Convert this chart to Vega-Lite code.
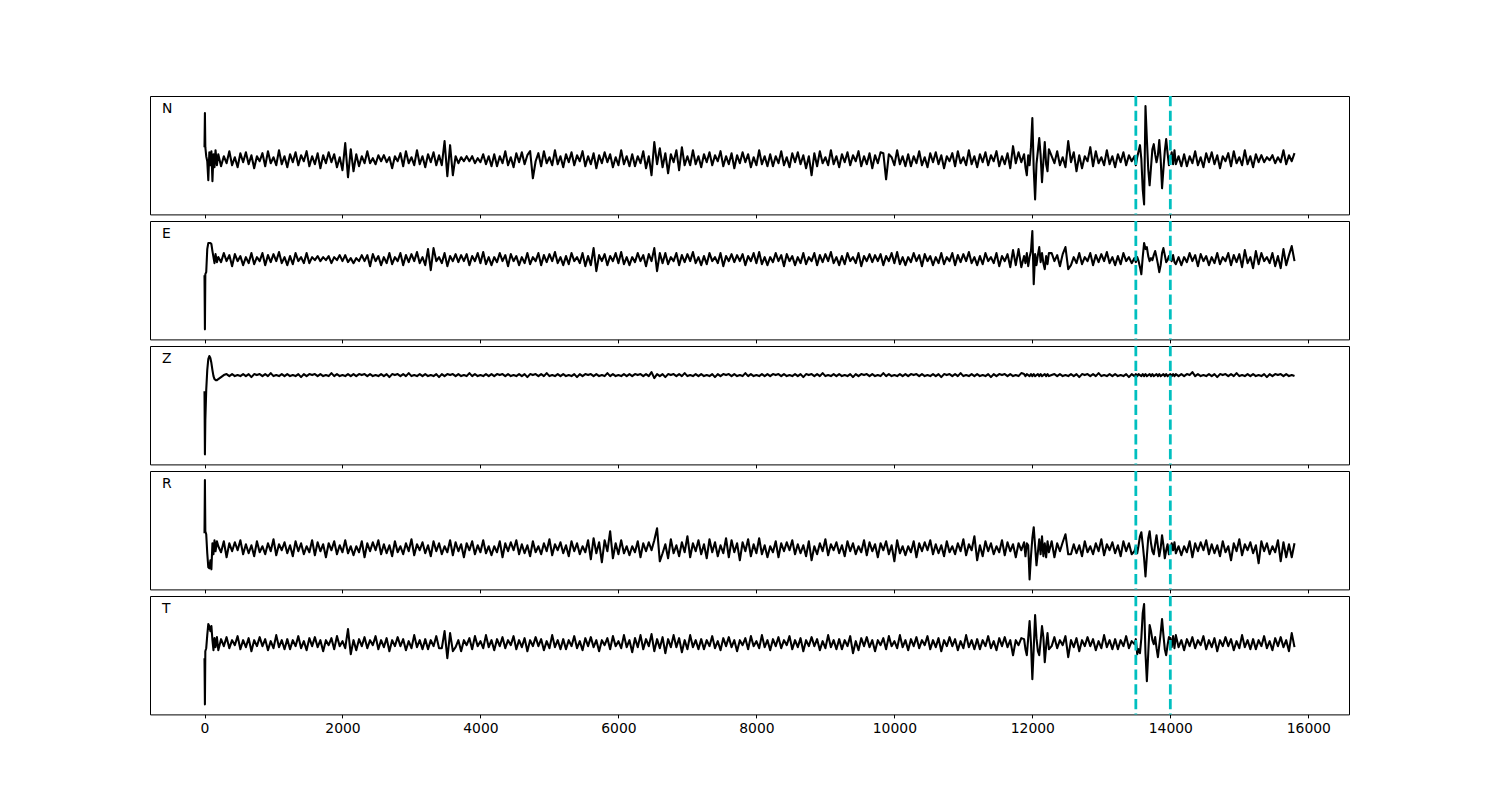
{
"$schema": "https://vega.github.io/schema/vega-lite/v6.json",
"background": "white",
"padding": {"left": 149, "top": 94, "right": 0, "bottom": 0},
"bounds": "flush",
"spacing": 6,
"config": {
  "view": {"stroke": "black", "strokeWidth": 1},
  "axis": {"domain": false, "grid": false, "tickColor": "black", "tickWidth": 1, "tickSize": 3.5, "labelColor": "black", "labelFont": "DejaVu Sans", "labelFontSize": 13.9, "labelPadding": 3.5},
  "title": {"font": "DejaVu Sans", "fontSize": 13.9, "fontWeight": "normal", "color": "black", "anchor": "start", "frame": "group", "baseline": "alphabetic", "offset": -21, "dx": 12}
},
"datasets": {
"picks": [{"t": 13500}, {"t": 14000}],
"w": [
{"t":0,"N":12,"E":-16,"Z":-16,"R":15,"T":-15},
{"t":6,"N":46,"E":-70,"Z":-79,"R":68,"T":-61},
{"t":12,"N":12,"E":-15,"Z":-45,"R":17,"T":-8},
{"t":25,"N":3,"E":-13,"Z":-15,"R":14,"T":-5},
{"t":40,"N":-2,"E":10,"Z":5,"R":-5,"T":8},
{"t":55,"N":-21,"E":16,"Z":16,"R":-19,"T":19},
{"t":70,"N":7,"E":16,"Z":19,"R":-20,"T":17},
{"t":85,"N":-6,"E":16,"Z":17,"R":-12,"T":12},
{"t":100,"N":8,"E":15,"Z":12,"R":-21,"T":17},
{"t":115,"N":-22,"E":8,"Z":5,"R":5,"T":3},
{"t":130,"N":5,"E":2,"Z":-1,"R":-6,"T":-7},
{"t":145,"N":-8,"E":-4,"Z":-4,"R":8,"T":5},
{"t":160,"N":9,"E":5,"Z":-5,"R":-3,"T":-4},
{"t":180,"N":-6,"E":-3,"Z":-5,"R":7,"T":6},
{"t":200,"N":5,"E":2,"Z":-4,"R":2,"T":-7},
{"t":240,"N":-7,"E":-3,"Z":-2,"R":-4,"T":4},
{"t":280,"N":3,"E":6,"Z":0,"R":7,"T":-3},
{"t":320,"N":-4,"E":-2,"Z":1,"R":-9,"T":6},
{"t":360,"N":8,"E":4,"Z":-1,"R":5,"T":-5},
{"t":400,"N":-6,"E":-7,"Z":1,"R":-3,"T":3},
{"t":440,"N":2,"E":5,"Z":-1,"R":6,"T":-2},
{"t":480,"N":-8,"E":-2,"Z":0,"R":-2,"T":7},
{"t":520,"N":6,"E":3,"Z":-1,"R":8,"T":-6},
{"t":560,"N":-3,"E":-6,"Z":1,"R":-6,"T":3},
{"t":600,"N":7,"E":2,"Z":-1,"R":4,"T":-4},
{"t":640,"N":-5,"E":-4,"Z":1,"R":-5,"T":5},
{"t":680,"N":4,"E":6,"Z":-2,"R":3,"T":-8},
{"t":720,"N":-9,"E":-5,"Z":1,"R":-8,"T":3},
{"t":760,"N":3,"E":2,"Z":0,"R":7,"T":-3},
{"t":800,"N":-2,"E":-2,"Z":1,"R":-4,"T":6},
{"t":840,"N":6,"E":6,"Z":-1,"R":2,"T":-3},
{"t":880,"N":-7,"E":-6,"Z":1,"R":-6,"T":4},
{"t":920,"N":8,"E":4,"Z":-1,"R":5,"T":-7},
{"t":960,"N":-4,"E":-3,"Z":2,"R":-3,"T":2},
{"t":1000,"N":2,"E":5,"Z":-1,"R":9,"T":-5},
{"t":1040,"N":-6,"E":-2,"Z":0,"R":-7,"T":8},
{"t":1080,"N":9,"E":7,"Z":-1,"R":4,"T":-4},
{"t":1120,"N":-5,"E":-4,"Z":1,"R":-2,"T":3},
{"t":1160,"N":3,"E":2,"Z":-1,"R":6,"T":-6},
{"t":1200,"N":-8,"E":-6,"Z":1,"R":-5,"T":4},
{"t":1240,"N":5,"E":3,"Z":-1,"R":3,"T":-6},
{"t":1280,"N":-3,"E":-5,"Z":0,"R":-8,"T":3},
{"t":1320,"N":7,"E":6,"Z":-1,"R":7,"T":-3},
{"t":1360,"N":-6,"E":-2,"Z":1,"R":-3,"T":7},
{"t":1400,"N":4,"E":2,"Z":-2,"R":5,"T":-5},
{"t":1440,"N":-2,"E":-4,"Z":1,"R":-6,"T":2},
{"t":1480,"N":8,"E":6,"Z":-1,"R":2,"T":-7},
{"t":1520,"N":-7,"E":-4,"Z":1,"R":-4,"T":5},
{"t":1560,"N":3,"E":2,"Z":0,"R":8,"T":-3},
{"t":1600,"N":-5,"E":-1,"Z":1,"R":-7,"T":6},
{"t":1640,"N":6,"E":3,"Z":-1,"R":6,"T":-4},
{"t":1680,"N":-9,"E":-2,"Z":1,"R":-3,"T":3},
{"t":1720,"N":4,"E":2,"Z":-1,"R":4,"T":-8},
{"t":1760,"N":-4,"E":-1,"Z":0,"R":-9,"T":3},
{"t":1800,"N":7,"E":3,"Z":-1,"R":5,"T":-2},
{"t":1840,"N":-3,"E":-4,"Z":2,"R":-2,"T":5},
{"t":1880,"N":5,"E":2,"Z":-1,"R":7,"T":-6},
{"t":1920,"N":-8,"E":-1,"Z":1,"R":-6,"T":7},
{"t":1960,"N":2,"E":4,"Z":-1,"R":3,"T":-3},
{"t":2000,"N":-11,"E":-2,"Z":0,"R":-4,"T":2},
{"t":2040,"N":16,"E":4,"Z":-1,"R":8,"T":-5},
{"t":2080,"N":-18,"E":-3,"Z":1,"R":-5,"T":14},
{"t":2120,"N":10,"E":1,"Z":-1,"R":2,"T":-11},
{"t":2160,"N":-12,"E":-4,"Z":1,"R":-7,"T":3},
{"t":2200,"N":5,"E":1,"Z":-1,"R":2,"T":-7},
{"t":2240,"N":-7,"E":-2,"Z":1,"R":-4,"T":4},
{"t":2280,"N":3,"E":4,"Z":0,"R":7,"T":-3},
{"t":2320,"N":-4,"E":-2,"Z":1,"R":-9,"T":6},
{"t":2360,"N":8,"E":4,"Z":-1,"R":5,"T":-5},
{"t":2400,"N":-4,"E":-7,"Z":1,"R":-3,"T":3},
{"t":2440,"N":1,"E":5,"Z":-1,"R":6,"T":-2},
{"t":2480,"N":-5,"E":-2,"Z":0,"R":-2,"T":7},
{"t":2520,"N":4,"E":3,"Z":-1,"R":8,"T":-6},
{"t":2560,"N":-2,"E":-6,"Z":1,"R":-6,"T":3},
{"t":2600,"N":4,"E":2,"Z":-1,"R":4,"T":-4},
{"t":2640,"N":-3,"E":-4,"Z":1,"R":-5,"T":5},
{"t":2680,"N":2,"E":6,"Z":-2,"R":3,"T":-8},
{"t":2720,"N":-9,"E":-5,"Z":1,"R":-8,"T":3},
{"t":2760,"N":3,"E":2,"Z":0,"R":7,"T":-3},
{"t":2800,"N":-2,"E":-2,"Z":1,"R":-4,"T":6},
{"t":2840,"N":6,"E":6,"Z":-1,"R":2,"T":-3},
{"t":2880,"N":-7,"E":-6,"Z":1,"R":-6,"T":4},
{"t":2920,"N":8,"E":4,"Z":-1,"R":5,"T":-7},
{"t":2960,"N":-4,"E":-3,"Z":2,"R":-3,"T":2},
{"t":3000,"N":2,"E":5,"Z":-1,"R":9,"T":-5},
{"t":3040,"N":-6,"E":-2,"Z":0,"R":-7,"T":8},
{"t":3080,"N":9,"E":7,"Z":-1,"R":4,"T":-4},
{"t":3120,"N":-5,"E":-4,"Z":1,"R":-2,"T":3},
{"t":3160,"N":3,"E":2,"Z":-1,"R":6,"T":-6},
{"t":3200,"N":-8,"E":-6,"Z":1,"R":-5,"T":4},
{"t":3240,"N":5,"E":10,"Z":-1,"R":3,"T":-6},
{"t":3280,"N":-3,"E":-11,"Z":0,"R":-8,"T":3},
{"t":3320,"N":7,"E":11,"Z":-1,"R":7,"T":-3},
{"t":3360,"N":-6,"E":-2,"Z":1,"R":-3,"T":7},
{"t":3400,"N":4,"E":2,"Z":-2,"R":5,"T":-5},
{"t":3440,"N":-6,"E":-4,"Z":1,"R":-6,"T":-5},
{"t":3480,"N":18,"E":6,"Z":-1,"R":2,"T":12},
{"t":3520,"N":-17,"E":-7,"Z":1,"R":-4,"T":-15},
{"t":3560,"N":14,"E":3,"Z":0,"R":8,"T":10},
{"t":3600,"N":-16,"E":-2,"Z":1,"R":-7,"T":-8},
{"t":3640,"N":3,"E":5,"Z":-1,"R":6,"T":-4},
{"t":3680,"N":-4,"E":-3,"Z":1,"R":-3,"T":3},
{"t":3720,"N":2,"E":4,"Z":-1,"R":4,"T":-8},
{"t":3760,"N":-2,"E":-2,"Z":0,"R":-9,"T":3},
{"t":3800,"N":3,"E":5,"Z":-1,"R":5,"T":-2},
{"t":3840,"N":-2,"E":-6,"Z":2,"R":-2,"T":5},
{"t":3880,"N":3,"E":3,"Z":-1,"R":7,"T":-6},
{"t":3920,"N":-4,"E":-2,"Z":1,"R":-6,"T":7},
{"t":3960,"N":1,"E":6,"Z":-1,"R":3,"T":-3},
{"t":4000,"N":-3,"E":-4,"Z":0,"R":-4,"T":2},
{"t":4040,"N":5,"E":7,"Z":-1,"R":8,"T":-5},
{"t":4080,"N":-5,"E":-5,"Z":1,"R":-5,"T":8},
{"t":4120,"N":3,"E":2,"Z":-1,"R":2,"T":-4},
{"t":4160,"N":-7,"E":-6,"Z":1,"R":-7,"T":3},
{"t":4200,"N":5,"E":2,"Z":-1,"R":2,"T":-7},
{"t":4240,"N":-7,"E":-3,"Z":1,"R":-4,"T":4},
{"t":4280,"N":3,"E":6,"Z":0,"R":7,"T":-3},
{"t":4320,"N":-4,"E":-2,"Z":1,"R":-9,"T":6},
{"t":4360,"N":8,"E":4,"Z":-1,"R":5,"T":-5},
{"t":4400,"N":-6,"E":-7,"Z":1,"R":-3,"T":3},
{"t":4440,"N":2,"E":5,"Z":-1,"R":6,"T":-2},
{"t":4480,"N":-8,"E":-2,"Z":0,"R":-2,"T":7},
{"t":4520,"N":6,"E":3,"Z":-1,"R":8,"T":-6},
{"t":4560,"N":-3,"E":-6,"Z":1,"R":-6,"T":3},
{"t":4600,"N":7,"E":2,"Z":-1,"R":4,"T":-4},
{"t":4640,"N":-5,"E":-4,"Z":1,"R":-5,"T":5},
{"t":4680,"N":4,"E":6,"Z":-2,"R":3,"T":-8},
{"t":4720,"N":8,"E":-5,"Z":1,"R":-8,"T":3},
{"t":4760,"N":-19,"E":2,"Z":0,"R":7,"T":-3},
{"t":4800,"N":-2,"E":-2,"Z":1,"R":-4,"T":6},
{"t":4840,"N":6,"E":6,"Z":-1,"R":2,"T":-3},
{"t":4880,"N":-7,"E":-6,"Z":1,"R":-6,"T":4},
{"t":4920,"N":8,"E":4,"Z":-1,"R":5,"T":-7},
{"t":4960,"N":-4,"E":-3,"Z":2,"R":-3,"T":2},
{"t":5000,"N":2,"E":5,"Z":-1,"R":9,"T":-5},
{"t":5040,"N":-6,"E":-2,"Z":0,"R":-7,"T":8},
{"t":5080,"N":9,"E":7,"Z":-1,"R":4,"T":-4},
{"t":5120,"N":-5,"E":-4,"Z":1,"R":-2,"T":3},
{"t":5160,"N":3,"E":2,"Z":-1,"R":6,"T":-6},
{"t":5200,"N":-8,"E":-6,"Z":1,"R":-5,"T":4},
{"t":5240,"N":5,"E":3,"Z":-1,"R":3,"T":-6},
{"t":5280,"N":-3,"E":-5,"Z":0,"R":-8,"T":3},
{"t":5320,"N":7,"E":6,"Z":-1,"R":7,"T":-3},
{"t":5360,"N":-6,"E":-2,"Z":1,"R":-3,"T":7},
{"t":5400,"N":4,"E":2,"Z":-2,"R":5,"T":-5},
{"t":5440,"N":-2,"E":-4,"Z":1,"R":-6,"T":2},
{"t":5480,"N":8,"E":6,"Z":-1,"R":2,"T":-7},
{"t":5520,"N":-7,"E":-7,"Z":1,"R":-4,"T":5},
{"t":5560,"N":3,"E":3,"Z":0,"R":8,"T":-3},
{"t":5600,"N":-5,"E":-6,"Z":1,"R":-11,"T":6},
{"t":5640,"N":6,"E":11,"Z":-1,"R":10,"T":-4},
{"t":5680,"N":-9,"E":-12,"Z":1,"R":-5,"T":3},
{"t":5720,"N":4,"E":4,"Z":-1,"R":6,"T":-8},
{"t":5760,"N":-4,"E":-2,"Z":0,"R":-14,"T":3},
{"t":5800,"N":7,"E":5,"Z":-1,"R":8,"T":-2},
{"t":5840,"N":-3,"E":-6,"Z":2,"R":-3,"T":5},
{"t":5880,"N":5,"E":3,"Z":-1,"R":17,"T":-6},
{"t":5920,"N":-8,"E":-2,"Z":1,"R":-10,"T":7},
{"t":5960,"N":2,"E":6,"Z":-1,"R":5,"T":-3},
{"t":6000,"N":-6,"E":-4,"Z":0,"R":-6,"T":2},
{"t":6040,"N":9,"E":7,"Z":-1,"R":8,"T":-5},
{"t":6080,"N":-5,"E":-5,"Z":1,"R":-5,"T":8},
{"t":6120,"N":3,"E":2,"Z":-1,"R":2,"T":-4},
{"t":6160,"N":-7,"E":-6,"Z":1,"R":-7,"T":3},
{"t":6200,"N":5,"E":2,"Z":-1,"R":2,"T":-9},
{"t":6240,"N":-7,"E":-3,"Z":1,"R":-4,"T":5},
{"t":6280,"N":3,"E":6,"Z":0,"R":7,"T":-4},
{"t":6320,"N":-4,"E":-2,"Z":1,"R":-9,"T":8},
{"t":6360,"N":8,"E":4,"Z":-1,"R":5,"T":-6},
{"t":6400,"N":-9,"E":-7,"Z":1,"R":-3,"T":4},
{"t":6440,"N":3,"E":5,"Z":-1,"R":6,"T":-3},
{"t":6480,"N":-16,"E":-2,"Z":3,"R":-2,"T":9},
{"t":6520,"N":17,"E":11,"Z":-3,"R":8,"T":-8},
{"t":6560,"N":-5,"E":-12,"Z":1,"R":20,"T":4},
{"t":6600,"N":11,"E":6,"Z":-1,"R":-13,"T":-5},
{"t":6640,"N":-8,"E":-4,"Z":1,"R":-5,"T":6},
{"t":6680,"N":6,"E":6,"Z":-2,"R":4,"T":-10},
{"t":6720,"N":-14,"E":-5,"Z":1,"R":-10,"T":4},
{"t":6760,"N":5,"E":2,"Z":0,"R":9,"T":-4},
{"t":6800,"N":-3,"E":-2,"Z":1,"R":-5,"T":8},
{"t":6840,"N":9,"E":6,"Z":-1,"R":3,"T":-4},
{"t":6880,"N":-11,"E":-6,"Z":1,"R":-8,"T":5},
{"t":6920,"N":12,"E":4,"Z":-1,"R":6,"T":-9},
{"t":6960,"N":-6,"E":-3,"Z":2,"R":-4,"T":3},
{"t":7000,"N":3,"E":5,"Z":-1,"R":12,"T":-6},
{"t":7040,"N":-6,"E":-2,"Z":0,"R":-9,"T":8},
{"t":7080,"N":9,"E":7,"Z":-1,"R":5,"T":-4},
{"t":7120,"N":-5,"E":-4,"Z":1,"R":-3,"T":3},
{"t":7160,"N":3,"E":2,"Z":-1,"R":8,"T":-6},
{"t":7200,"N":-8,"E":-6,"Z":1,"R":-6,"T":4},
{"t":7240,"N":5,"E":3,"Z":-1,"R":4,"T":-6},
{"t":7280,"N":-3,"E":-5,"Z":0,"R":-10,"T":3},
{"t":7320,"N":7,"E":6,"Z":-1,"R":9,"T":-3},
{"t":7360,"N":-6,"E":-2,"Z":1,"R":-4,"T":7},
{"t":7400,"N":4,"E":2,"Z":-2,"R":6,"T":-5},
{"t":7440,"N":-2,"E":-4,"Z":1,"R":-8,"T":2},
{"t":7480,"N":8,"E":6,"Z":-1,"R":3,"T":-7},
{"t":7520,"N":-7,"E":-7,"Z":1,"R":-5,"T":5},
{"t":7560,"N":3,"E":3,"Z":0,"R":10,"T":-3},
{"t":7600,"N":-5,"E":-2,"Z":1,"R":-9,"T":6},
{"t":7640,"N":6,"E":5,"Z":-1,"R":8,"T":-4},
{"t":7680,"N":-9,"E":-3,"Z":1,"R":-4,"T":3},
{"t":7720,"N":4,"E":4,"Z":-1,"R":5,"T":-8},
{"t":7760,"N":-4,"E":-2,"Z":0,"R":-12,"T":3},
{"t":7800,"N":7,"E":5,"Z":-1,"R":6,"T":-2},
{"t":7840,"N":-3,"E":-6,"Z":2,"R":-3,"T":5},
{"t":7880,"N":5,"E":3,"Z":-1,"R":9,"T":-6},
{"t":7920,"N":-8,"E":-2,"Z":1,"R":-8,"T":7},
{"t":7960,"N":2,"E":6,"Z":-1,"R":4,"T":-3},
{"t":8000,"N":-6,"E":-4,"Z":0,"R":-5,"T":2},
{"t":8040,"N":9,"E":7,"Z":-1,"R":10,"T":-5},
{"t":8080,"N":-5,"E":-5,"Z":1,"R":-6,"T":8},
{"t":8120,"N":3,"E":2,"Z":-1,"R":3,"T":-4},
{"t":8160,"N":-7,"E":-6,"Z":1,"R":-9,"T":3},
{"t":8200,"N":5,"E":2,"Z":-1,"R":2,"T":-7},
{"t":8240,"N":-7,"E":-3,"Z":1,"R":-4,"T":4},
{"t":8280,"N":3,"E":6,"Z":0,"R":7,"T":-3},
{"t":8320,"N":-4,"E":-2,"Z":1,"R":-9,"T":6},
{"t":8360,"N":8,"E":4,"Z":-1,"R":5,"T":-5},
{"t":8400,"N":-6,"E":-7,"Z":1,"R":-3,"T":3},
{"t":8440,"N":2,"E":5,"Z":-1,"R":6,"T":-2},
{"t":8480,"N":-8,"E":-2,"Z":0,"R":-2,"T":7},
{"t":8520,"N":6,"E":3,"Z":-1,"R":8,"T":-6},
{"t":8560,"N":-3,"E":-6,"Z":1,"R":-6,"T":3},
{"t":8600,"N":7,"E":2,"Z":-1,"R":4,"T":-4},
{"t":8640,"N":-5,"E":-4,"Z":1,"R":-5,"T":5},
{"t":8680,"N":4,"E":6,"Z":-2,"R":3,"T":-8},
{"t":8720,"N":-9,"E":-5,"Z":1,"R":-8,"T":3},
{"t":8760,"N":3,"E":2,"Z":0,"R":7,"T":-3},
{"t":8800,"N":-16,"E":-2,"Z":1,"R":-12,"T":6},
{"t":8840,"N":6,"E":6,"Z":-1,"R":2,"T":-3},
{"t":8880,"N":-7,"E":-6,"Z":1,"R":-6,"T":4},
{"t":8920,"N":8,"E":4,"Z":-1,"R":5,"T":-7},
{"t":8960,"N":-4,"E":-3,"Z":2,"R":-3,"T":2},
{"t":9000,"N":2,"E":5,"Z":-1,"R":9,"T":-5},
{"t":9040,"N":-6,"E":-2,"Z":0,"R":-7,"T":8},
{"t":9080,"N":9,"E":7,"Z":-1,"R":4,"T":-4},
{"t":9120,"N":-5,"E":-4,"Z":1,"R":-2,"T":3},
{"t":9160,"N":3,"E":2,"Z":-1,"R":6,"T":-6},
{"t":9200,"N":-8,"E":-6,"Z":1,"R":-5,"T":4},
{"t":9240,"N":5,"E":3,"Z":-1,"R":3,"T":-6},
{"t":9280,"N":-3,"E":-5,"Z":0,"R":-8,"T":3},
{"t":9320,"N":7,"E":6,"Z":-1,"R":7,"T":-3},
{"t":9360,"N":-6,"E":-2,"Z":1,"R":-3,"T":7},
{"t":9400,"N":4,"E":2,"Z":-2,"R":5,"T":-10},
{"t":9440,"N":-2,"E":-4,"Z":1,"R":-6,"T":2},
{"t":9480,"N":8,"E":6,"Z":-1,"R":2,"T":-7},
{"t":9520,"N":-7,"E":-7,"Z":1,"R":-4,"T":5},
{"t":9560,"N":3,"E":3,"Z":0,"R":8,"T":-3},
{"t":9600,"N":-5,"E":-2,"Z":1,"R":-7,"T":6},
{"t":9640,"N":6,"E":5,"Z":-1,"R":6,"T":-4},
{"t":9680,"N":-9,"E":-3,"Z":1,"R":-3,"T":3},
{"t":9720,"N":4,"E":4,"Z":-1,"R":4,"T":-8},
{"t":9760,"N":-4,"E":-2,"Z":0,"R":-9,"T":3},
{"t":9800,"N":7,"E":5,"Z":-1,"R":5,"T":-2},
{"t":9840,"N":6,"E":-6,"Z":2,"R":-2,"T":5},
{"t":9880,"N":-20,"E":3,"Z":-1,"R":7,"T":-6},
{"t":9920,"N":5,"E":-2,"Z":1,"R":-6,"T":7},
{"t":9960,"N":2,"E":6,"Z":-1,"R":3,"T":-3},
{"t":10000,"N":-6,"E":-4,"Z":0,"R":-13,"T":2},
{"t":10040,"N":9,"E":7,"Z":-1,"R":8,"T":-5},
{"t":10080,"N":-5,"E":-5,"Z":1,"R":-5,"T":8},
{"t":10120,"N":3,"E":2,"Z":-1,"R":2,"T":-4},
{"t":10160,"N":-7,"E":-6,"Z":1,"R":-7,"T":3},
{"t":10200,"N":5,"E":2,"Z":-1,"R":2,"T":-7},
{"t":10240,"N":-7,"E":-3,"Z":1,"R":-4,"T":4},
{"t":10280,"N":3,"E":6,"Z":0,"R":7,"T":-3},
{"t":10320,"N":-4,"E":-2,"Z":1,"R":-9,"T":6},
{"t":10360,"N":8,"E":4,"Z":-1,"R":5,"T":-5},
{"t":10400,"N":-6,"E":-7,"Z":1,"R":-3,"T":3},
{"t":10440,"N":2,"E":5,"Z":-1,"R":6,"T":-2},
{"t":10480,"N":-8,"E":-2,"Z":0,"R":-2,"T":7},
{"t":10520,"N":6,"E":3,"Z":-1,"R":8,"T":-6},
{"t":10560,"N":-3,"E":-6,"Z":1,"R":-6,"T":3},
{"t":10600,"N":7,"E":2,"Z":-1,"R":4,"T":-4},
{"t":10640,"N":-5,"E":-4,"Z":1,"R":-5,"T":5},
{"t":10680,"N":4,"E":6,"Z":-2,"R":3,"T":-8},
{"t":10720,"N":-9,"E":-5,"Z":1,"R":-8,"T":3},
{"t":10760,"N":3,"E":2,"Z":0,"R":7,"T":-3},
{"t":10800,"N":-2,"E":-2,"Z":1,"R":-4,"T":6},
{"t":10840,"N":6,"E":6,"Z":-1,"R":2,"T":-3},
{"t":10880,"N":-7,"E":-6,"Z":1,"R":-6,"T":4},
{"t":10920,"N":8,"E":4,"Z":-1,"R":5,"T":-7},
{"t":10960,"N":-4,"E":-3,"Z":2,"R":-3,"T":2},
{"t":11000,"N":2,"E":5,"Z":-1,"R":9,"T":-5},
{"t":11040,"N":-6,"E":-2,"Z":0,"R":-7,"T":8},
{"t":11080,"N":9,"E":7,"Z":-1,"R":4,"T":-4},
{"t":11120,"N":-5,"E":-4,"Z":1,"R":-2,"T":3},
{"t":11160,"N":3,"E":2,"Z":-1,"R":12,"T":-6},
{"t":11200,"N":-8,"E":-6,"Z":1,"R":-12,"T":4},
{"t":11240,"N":5,"E":3,"Z":-1,"R":3,"T":-6},
{"t":11280,"N":-3,"E":-5,"Z":0,"R":-8,"T":3},
{"t":11320,"N":7,"E":6,"Z":-1,"R":7,"T":-3},
{"t":11360,"N":-6,"E":-2,"Z":1,"R":-3,"T":7},
{"t":11400,"N":4,"E":2,"Z":-2,"R":5,"T":-5},
{"t":11440,"N":-2,"E":-4,"Z":1,"R":-6,"T":2},
{"t":11480,"N":8,"E":6,"Z":-1,"R":2,"T":-7},
{"t":11520,"N":-7,"E":-7,"Z":1,"R":-4,"T":5},
{"t":11560,"N":3,"E":3,"Z":0,"R":8,"T":-3},
{"t":11600,"N":-5,"E":-2,"Z":1,"R":-7,"T":6},
{"t":11640,"N":6,"E":5,"Z":-1,"R":6,"T":-4},
{"t":11680,"N":-9,"E":-8,"Z":1,"R":-3,"T":3},
{"t":11720,"N":13,"E":9,"Z":-1,"R":4,"T":-12},
{"t":11760,"N":-4,"E":-6,"Z":0,"R":-9,"T":3},
{"t":11800,"N":7,"E":10,"Z":-1,"R":5,"T":-2},
{"t":11840,"N":-3,"E":-8,"Z":2,"R":-2,"T":5},
{"t":11880,"N":5,"E":3,"Z":1,"R":6,"T":4},
{"t":11900,"N":-8,"E":-4,"Z":-1,"R":-8,"T":-6},
{"t":11920,"N":-16,"E":6,"Z":1,"R":5,"T":-12},
{"t":11940,"N":4,"E":-7,"Z":0,"R":3,"T":5},
{"t":11960,"N":-6,"E":2,"Z":-1,"R":-31,"T":22},
{"t":11980,"N":12,"E":8,"Z":1,"R":-8,"T":0},
{"t":12000,"N":41,"E":28,"Z":-1,"R":10,"T":-36},
{"t":12020,"N":-10,"E":-25,"Z":1,"R":21,"T":-5},
{"t":12040,"N":-40,"E":5,"Z":-1,"R":2,"T":28},
{"t":12060,"N":-5,"E":-6,"Z":0,"R":-17,"T":5},
{"t":12080,"N":8,"E":4,"Z":1,"R":-4,"T":-8},
{"t":12100,"N":21,"E":12,"Z":-1,"R":9,"T":-12},
{"t":12120,"N":4,"E":-3,"Z":1,"R":-6,"T":2},
{"t":12140,"N":-23,"E":6,"Z":-1,"R":12,"T":17},
{"t":12160,"N":-2,"E":-4,"Z":0,"R":-8,"T":6},
{"t":12180,"N":17,"E":-10,"Z":1,"R":5,"T":-19},
{"t":12200,"N":-5,"E":3,"Z":-1,"R":-9,"T":-3},
{"t":12220,"N":-12,"E":-5,"Z":1,"R":7,"T":10},
{"t":12240,"N":10,"E":6,"Z":-1,"R":-4,"T":-6},
{"t":12280,"N":3,"E":6,"Z":0,"R":7,"T":-3},
{"t":12320,"N":-4,"E":-2,"Z":1,"R":-9,"T":6},
{"t":12360,"N":8,"E":4,"Z":-1,"R":5,"T":-5},
{"t":12400,"N":-6,"E":-7,"Z":1,"R":-3,"T":3},
{"t":12440,"N":2,"E":5,"Z":-1,"R":6,"T":-2},
{"t":12480,"N":-8,"E":12,"Z":0,"R":14,"T":7},
{"t":12520,"N":18,"E":-10,"Z":-1,"R":-6,"T":-14},
{"t":12560,"N":-3,"E":-6,"Z":1,"R":-6,"T":3},
{"t":12600,"N":7,"E":2,"Z":-1,"R":4,"T":-4},
{"t":12640,"N":-12,"E":-4,"Z":1,"R":-5,"T":5},
{"t":12680,"N":4,"E":6,"Z":-2,"R":3,"T":-8},
{"t":12720,"N":-9,"E":-5,"Z":1,"R":-8,"T":3},
{"t":12760,"N":3,"E":2,"Z":0,"R":7,"T":-3},
{"t":12800,"N":-2,"E":-2,"Z":1,"R":-4,"T":6},
{"t":12840,"N":12,"E":6,"Z":-1,"R":2,"T":-3},
{"t":12880,"N":-7,"E":-6,"Z":1,"R":-6,"T":4},
{"t":12920,"N":8,"E":4,"Z":-1,"R":5,"T":-7},
{"t":12960,"N":-4,"E":-3,"Z":2,"R":-3,"T":2},
{"t":13000,"N":2,"E":5,"Z":-1,"R":9,"T":-5},
{"t":13040,"N":-6,"E":-2,"Z":0,"R":-7,"T":8},
{"t":13080,"N":9,"E":7,"Z":-1,"R":4,"T":-4},
{"t":13120,"N":-5,"E":-4,"Z":1,"R":-2,"T":3},
{"t":13160,"N":3,"E":2,"Z":-1,"R":6,"T":-6},
{"t":13200,"N":-8,"E":-6,"Z":1,"R":-5,"T":4},
{"t":13240,"N":5,"E":3,"Z":-1,"R":3,"T":-6},
{"t":13280,"N":-3,"E":-5,"Z":0,"R":-8,"T":3},
{"t":13320,"N":7,"E":6,"Z":-1,"R":7,"T":-3},
{"t":13360,"N":-6,"E":-2,"Z":1,"R":-3,"T":7},
{"t":13400,"N":4,"E":2,"Z":-2,"R":5,"T":-5},
{"t":13440,"N":-2,"E":-4,"Z":1,"R":-6,"T":2},
{"t":13480,"N":3,"E":1,"Z":-1,"R":-3,"T":-1},
{"t":13500,"N":-6,"E":-3,"Z":1,"R":2,"T":4},
{"t":13520,"N":2,"E":2,"Z":-1,"R":-5,"T":-11},
{"t":13540,"N":8,"E":-2,"Z":1,"R":3,"T":-6},
{"t":13560,"N":14,"E":-8,"Z":0,"R":12,"T":-10},
{"t":13580,"N":0,"E":-15,"Z":-1,"R":16,"T":5},
{"t":13600,"N":-30,"E":2,"Z":1,"R":4,"T":30},
{"t":13620,"N":-45,"E":16,"Z":-1,"R":-10,"T":39},
{"t":13640,"N":53,"E":10,"Z":1,"R":-28,"T":-10},
{"t":13660,"N":20,"E":12,"Z":-1,"R":-8,"T":-38},
{"t":13680,"N":-10,"E":3,"Z":0,"R":10,"T":-10},
{"t":13700,"N":-26,"E":-2,"Z":1,"R":17,"T":18},
{"t":13720,"N":-8,"E":1,"Z":-1,"R":5,"T":12},
{"t":13740,"N":10,"E":-1,"Z":1,"R":-3,"T":3},
{"t":13760,"N":15,"E":4,"Z":-1,"R":-6,"T":-1},
{"t":13780,"N":5,"E":8,"Z":0,"R":4,"T":6},
{"t":13800,"N":-3,"E":2,"Z":1,"R":13,"T":-5},
{"t":13820,"N":4,"E":-5,"Z":-1,"R":2,"T":-14},
{"t":13840,"N":19,"E":-13,"Z":1,"R":-8,"T":-2},
{"t":13860,"N":0,"E":-6,"Z":-1,"R":0,"T":10},
{"t":13880,"N":-29,"E":6,"Z":0,"R":13,"T":24},
{"t":13900,"N":-10,"E":11,"Z":1,"R":3,"T":8},
{"t":13920,"N":8,"E":4,"Z":-1,"R":-10,"T":-6},
{"t":13940,"N":20,"E":-3,"Z":1,"R":-2,"T":-12},
{"t":13960,"N":6,"E":-1,"Z":-1,"R":4,"T":-2},
{"t":13980,"N":-6,"E":3,"Z":0,"R":-6,"T":6},
{"t":14000,"N":0,"E":0,"Z":1,"R":-3,"T":5},
{"t":14020,"N":7,"E":-2,"Z":-1,"R":5,"T":-4},
{"t":14040,"N":-5,"E":4,"Z":1,"R":-2,"T":7},
{"t":14060,"N":9,"E":-3,"Z":-1,"R":6,"T":-5},
{"t":14080,"N":-5,"E":-5,"Z":1,"R":-5,"T":8},
{"t":14120,"N":3,"E":2,"Z":-1,"R":2,"T":-4},
{"t":14160,"N":-7,"E":-6,"Z":1,"R":-7,"T":3},
{"t":14200,"N":5,"E":2,"Z":-1,"R":2,"T":-7},
{"t":14240,"N":-7,"E":-3,"Z":1,"R":-4,"T":4},
{"t":14280,"N":3,"E":6,"Z":0,"R":7,"T":-3},
{"t":14320,"N":-4,"E":-2,"Z":3,"R":-9,"T":6},
{"t":14360,"N":8,"E":4,"Z":-1,"R":5,"T":-5},
{"t":14400,"N":-6,"E":-7,"Z":1,"R":-3,"T":3},
{"t":14440,"N":2,"E":5,"Z":-1,"R":6,"T":-2},
{"t":14480,"N":-8,"E":-2,"Z":0,"R":-2,"T":7},
{"t":14520,"N":6,"E":3,"Z":-1,"R":8,"T":-6},
{"t":14560,"N":-3,"E":-6,"Z":1,"R":-6,"T":3},
{"t":14600,"N":7,"E":2,"Z":-1,"R":4,"T":-4},
{"t":14640,"N":-5,"E":-4,"Z":1,"R":-5,"T":5},
{"t":14680,"N":4,"E":6,"Z":-2,"R":3,"T":-8},
{"t":14720,"N":-9,"E":-5,"Z":1,"R":-8,"T":3},
{"t":14760,"N":3,"E":2,"Z":0,"R":7,"T":-3},
{"t":14800,"N":-2,"E":-2,"Z":1,"R":-4,"T":6},
{"t":14840,"N":6,"E":6,"Z":-1,"R":2,"T":-3},
{"t":14880,"N":-7,"E":-6,"Z":1,"R":-12,"T":4},
{"t":14920,"N":8,"E":4,"Z":-1,"R":5,"T":-7},
{"t":14960,"N":-4,"E":-3,"Z":2,"R":-3,"T":2},
{"t":15000,"N":2,"E":5,"Z":-1,"R":9,"T":-5},
{"t":15040,"N":-6,"E":-8,"Z":0,"R":-7,"T":8},
{"t":15080,"N":9,"E":9,"Z":-1,"R":4,"T":-4},
{"t":15120,"N":-5,"E":-4,"Z":1,"R":-2,"T":3},
{"t":15160,"N":3,"E":2,"Z":-1,"R":6,"T":-6},
{"t":15200,"N":-8,"E":-9,"Z":1,"R":-5,"T":4},
{"t":15240,"N":5,"E":8,"Z":-1,"R":3,"T":-6},
{"t":15280,"N":-3,"E":-5,"Z":0,"R":-15,"T":3},
{"t":15320,"N":4,"E":6,"Z":-1,"R":7,"T":-3},
{"t":15360,"N":-3,"E":-2,"Z":1,"R":-3,"T":7},
{"t":15400,"N":2,"E":2,"Z":-2,"R":5,"T":-5},
{"t":15440,"N":-1,"E":-4,"Z":1,"R":-6,"T":2},
{"t":15480,"N":4,"E":6,"Z":-1,"R":2,"T":-7},
{"t":15520,"N":-4,"E":-7,"Z":1,"R":-4,"T":5},
{"t":15560,"N":2,"E":3,"Z":0,"R":8,"T":-3},
{"t":15600,"N":-3,"E":-9,"Z":1,"R":-13,"T":6},
{"t":15640,"N":9,"E":10,"Z":-1,"R":6,"T":-4},
{"t":15680,"N":-5,"E":-6,"Z":1,"R":-9,"T":3},
{"t":15720,"N":4,"E":4,"Z":-1,"R":4,"T":-8},
{"t":15760,"N":-2,"E":13,"Z":0,"R":-9,"T":10},
{"t":15800,"N":6,"E":-2,"Z":-1,"R":5,"T":-4}
]
},
"vconcat": [
{
 "width": 1199, "height": 118.4,
 "title": {"text": "N"},
 "layer": [
  {"data": {"name": "w"}, "mark": {"type": "line", "color": "black", "strokeWidth": 2.08, "strokeJoin": "round"},
   "encoding": {
    "x": {"field": "t", "type": "quantitative", "scale": {"domain": [-790, 16590], "nice": false, "zero": false}, "axis": {"labels": false, "values": [0,2000,4000,6000,8000,10000,12000,14000,16000], "title": null}},
    "y": {"field": "N", "type": "quantitative", "scale": {"domain": [-55, 63], "nice": false, "zero": false}, "axis": null}}},
  {"data": {"name": "picks"}, "mark": {"type": "rule", "color": "#00bfbf", "strokeWidth": 2.78, "strokeDash": [10.3, 4.4]},
   "encoding": {"x": {"field": "t", "type": "quantitative"}}}
 ]
},
{
 "width": 1199, "height": 118.4,
 "title": {"text": "E"},
 "layer": [
  {"data": {"name": "w"}, "mark": {"type": "line", "color": "black", "strokeWidth": 2.08, "strokeJoin": "round"},
   "encoding": {
    "x": {"field": "t", "type": "quantitative", "scale": {"domain": [-790, 16590], "nice": false, "zero": false}, "axis": {"labels": false, "values": [0,2000,4000,6000,8000,10000,12000,14000,16000], "title": null}},
    "y": {"field": "E", "type": "quantitative", "scale": {"domain": [-80, 38], "nice": false, "zero": false}, "axis": null}}},
  {"data": {"name": "picks"}, "mark": {"type": "rule", "color": "#00bfbf", "strokeWidth": 2.78, "strokeDash": [10.3, 4.4]},
   "encoding": {"x": {"field": "t", "type": "quantitative"}}}
 ]
},
{
 "width": 1199, "height": 118.4,
 "title": {"text": "Z"},
 "layer": [
  {"data": {"name": "w"}, "mark": {"type": "line", "color": "black", "strokeWidth": 2.08, "strokeJoin": "round"},
   "encoding": {
    "x": {"field": "t", "type": "quantitative", "scale": {"domain": [-790, 16590], "nice": false, "zero": false}, "axis": {"labels": false, "values": [0,2000,4000,6000,8000,10000,12000,14000,16000], "title": null}},
    "y": {"field": "Z", "type": "quantitative", "scale": {"domain": [-89, 29], "nice": false, "zero": false}, "axis": null}}},
  {"data": {"name": "picks"}, "mark": {"type": "rule", "color": "#00bfbf", "strokeWidth": 2.78, "strokeDash": [10.3, 4.4]},
   "encoding": {"x": {"field": "t", "type": "quantitative"}}}
 ]
},
{
 "width": 1199, "height": 118.4,
 "title": {"text": "R"},
 "layer": [
  {"data": {"name": "w"}, "mark": {"type": "line", "color": "black", "strokeWidth": 2.08, "strokeJoin": "round"},
   "encoding": {
    "x": {"field": "t", "type": "quantitative", "scale": {"domain": [-790, 16590], "nice": false, "zero": false}, "axis": {"labels": false, "values": [0,2000,4000,6000,8000,10000,12000,14000,16000], "title": null}},
    "y": {"field": "R", "type": "quantitative", "scale": {"domain": [-41, 77], "nice": false, "zero": false}, "axis": null}}},
  {"data": {"name": "picks"}, "mark": {"type": "rule", "color": "#00bfbf", "strokeWidth": 2.78, "strokeDash": [10.3, 4.4]},
   "encoding": {"x": {"field": "t", "type": "quantitative"}}}
 ]
},
{
 "width": 1199, "height": 118.4,
 "title": {"text": "T"},
 "layer": [
  {"data": {"name": "w"}, "mark": {"type": "line", "color": "black", "strokeWidth": 2.08, "strokeJoin": "round"},
   "encoding": {
    "x": {"field": "t", "type": "quantitative", "scale": {"domain": [-790, 16590], "nice": false, "zero": false}, "axis": {"labels": true, "format": "d", "values": [0,2000,4000,6000,8000,10000,12000,14000,16000], "title": null}},
    "y": {"field": "T", "type": "quantitative", "scale": {"domain": [-71, 47], "nice": false, "zero": false}, "axis": null}}},
  {"data": {"name": "picks"}, "mark": {"type": "rule", "color": "#00bfbf", "strokeWidth": 2.78, "strokeDash": [10.3, 4.4]},
   "encoding": {"x": {"field": "t", "type": "quantitative"}}}
 ]
}
]
}
